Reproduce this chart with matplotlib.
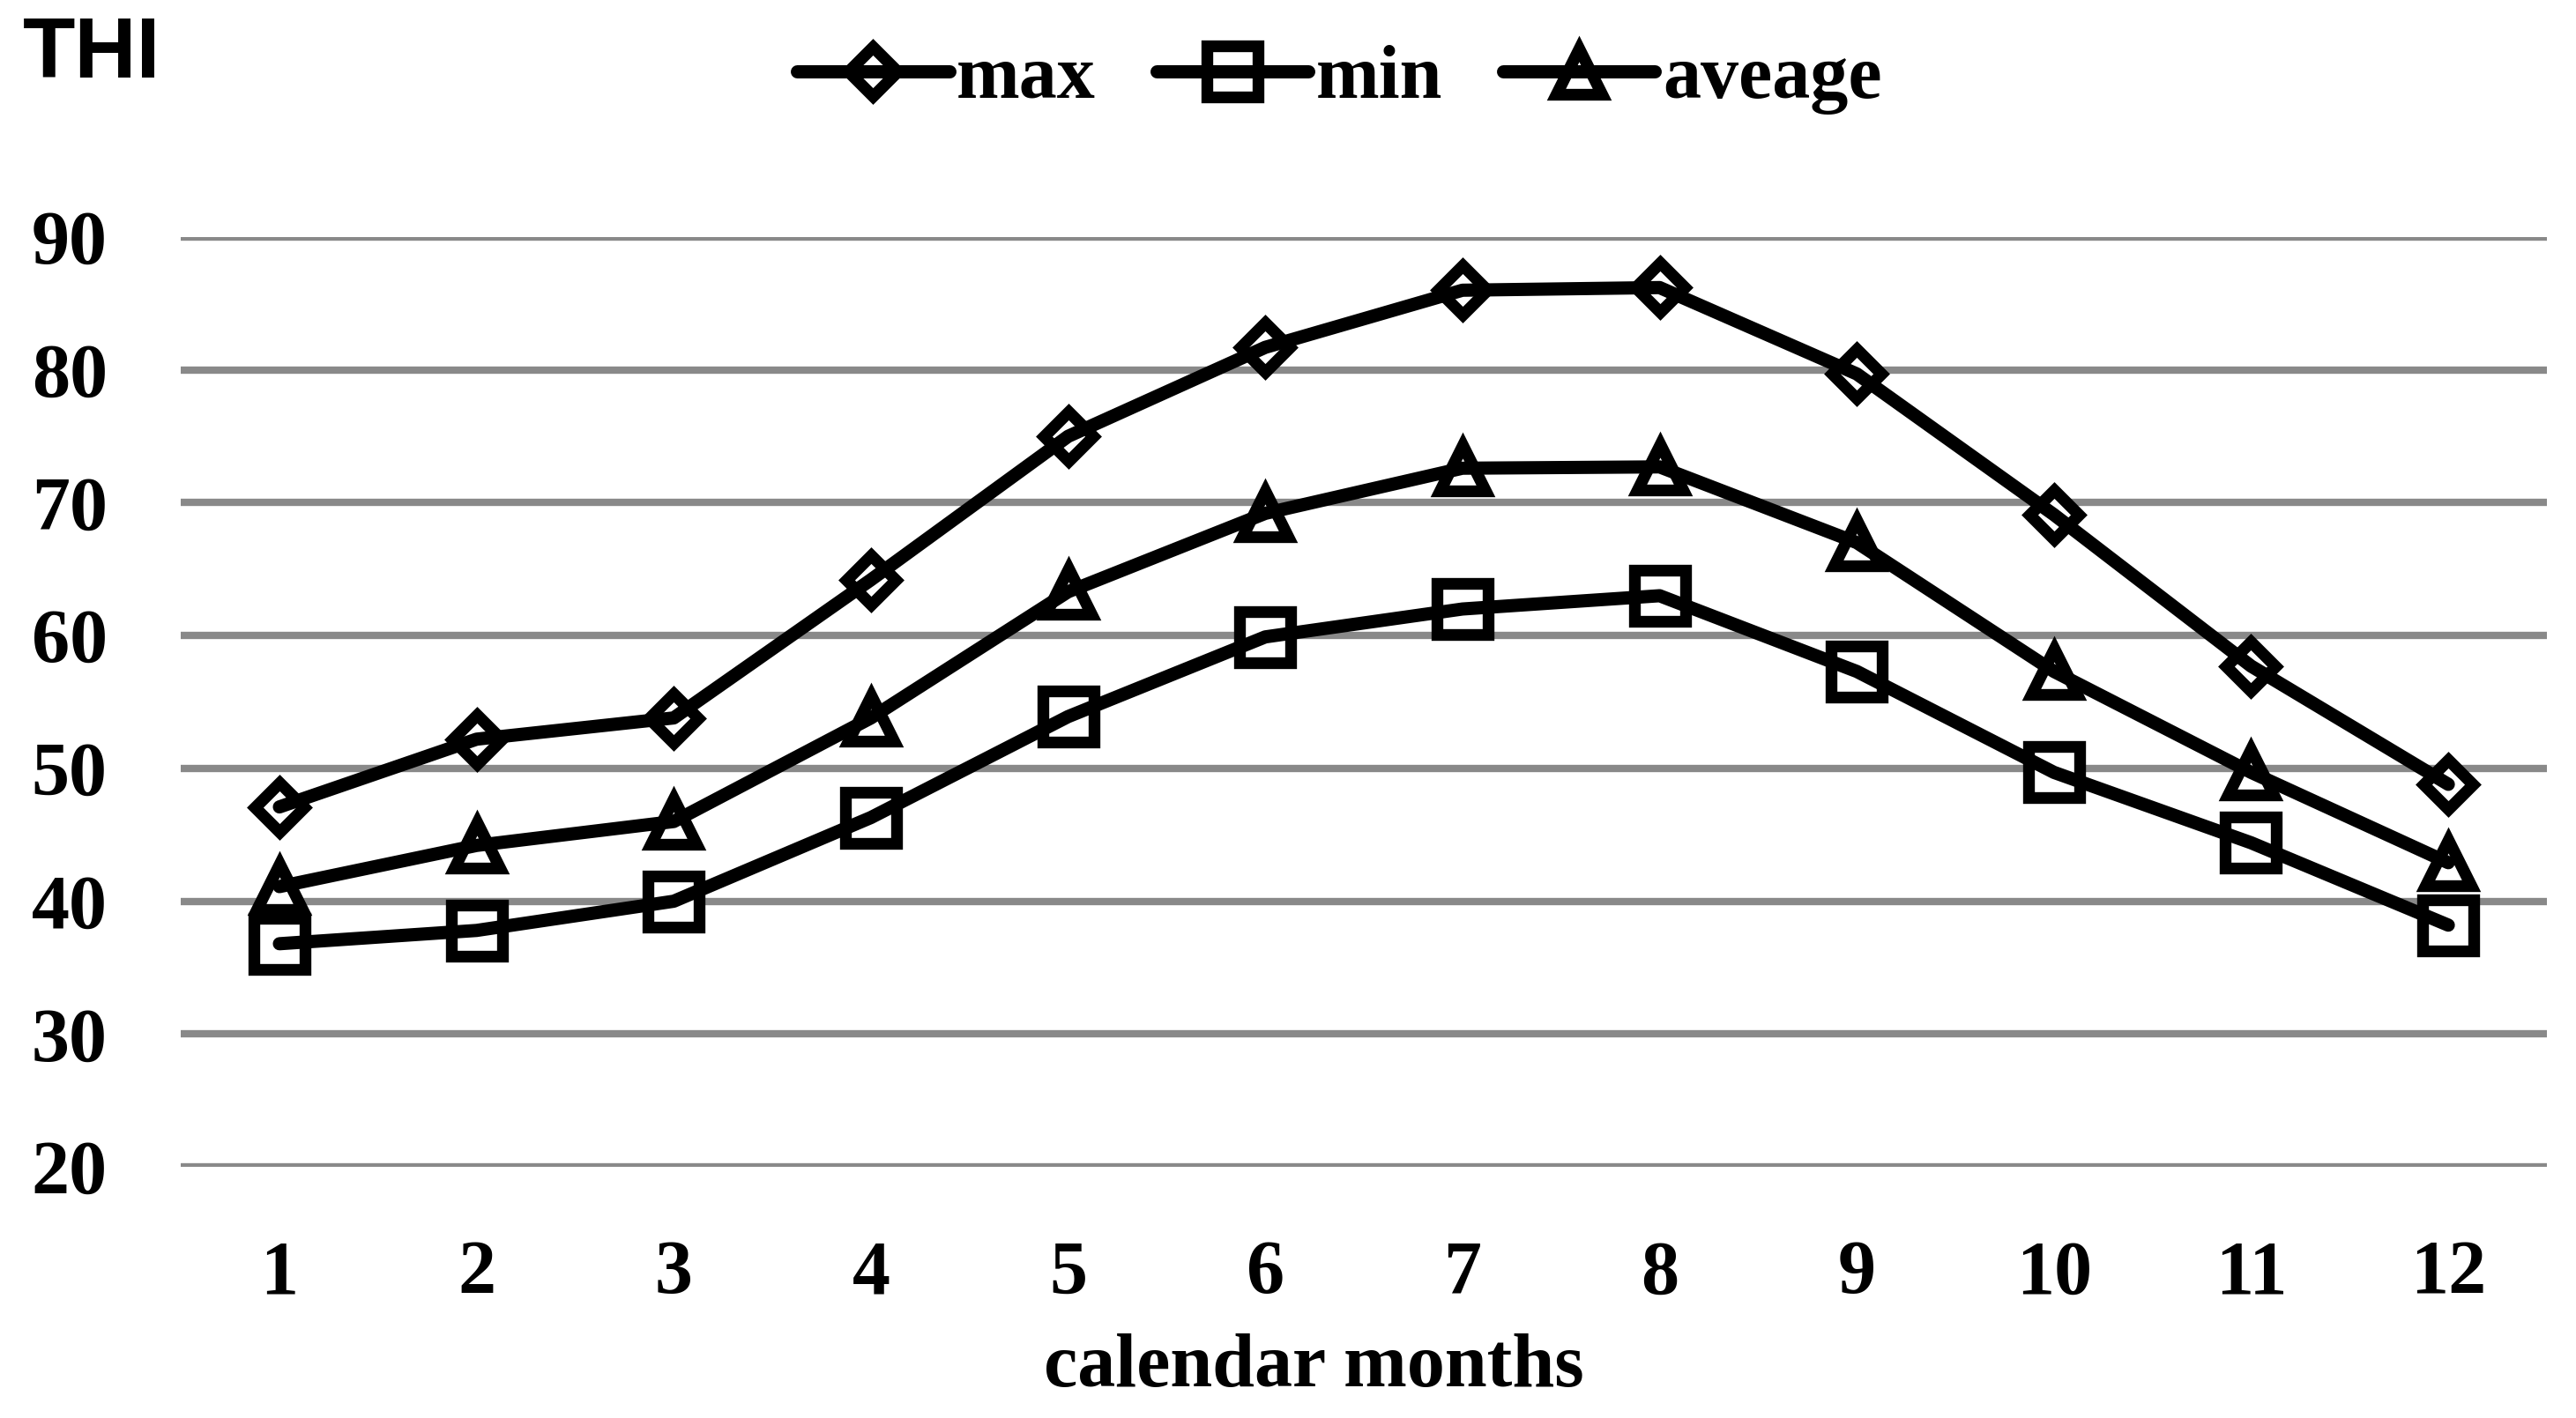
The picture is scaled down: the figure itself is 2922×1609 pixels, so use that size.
import matplotlib
matplotlib.use("Agg")
import matplotlib.pyplot as plt
from matplotlib.lines import Line2D
from matplotlib.legend_handler import HandlerTuple

months = [1, 2, 3, 4, 5, 6, 7, 8, 9, 10, 11, 12]
thi_max = [47.1, 52.2, 53.8, 64.2, 75.0, 81.7, 86.0, 86.2, 79.7, 69.1, 57.7, 48.8]
thi_min = [36.8, 37.8, 40.0, 46.3, 53.9, 59.9, 62.0, 63.0, 57.3, 49.7, 44.4, 38.2]
thi_avg = [41.1, 44.2, 46.0, 53.8, 63.3, 69.2, 72.6, 72.7, 67.0, 57.3, 49.7, 42.9]
y_ticks = [20, 30, 40, 50, 60, 70, 80, 90]
series_names = ["max", "min", "aveage"]

serif = ["Liberation Serif", "DejaVu Serif"]
fs = 31

fig = plt.figure(figsize=(14.61, 8.045), dpi=200)
ax = fig.add_axes([0.0702, 0.1771, 0.9185, 0.6557])

lw = 5.4
mew = 4.8
styles = [("D", 14.5), ("s", 21.0), ("^", 19.0)]
handles = []
for vals, (mk, ms) in zip([thi_max, thi_min, thi_avg], styles):
    # markers underneath, line drawn on top like the original
    ax.plot(months, vals, linestyle="none", marker=mk, markersize=ms,
            markerfacecolor="white", markeredgecolor="black",
            markeredgewidth=mew, zorder=3)
    ax.plot(months, vals, color="black", linewidth=lw,
            solid_capstyle="round", solid_joinstyle="round", zorder=4)
    h_m = Line2D([], [], linestyle="none", marker=mk, markersize=ms,
                 markerfacecolor="white", markeredgecolor="black",
                 markeredgewidth=mew)
    h_l = Line2D([], [], color="black", linewidth=lw, solid_capstyle="round")
    handles.append((h_m, h_l))

ax.set_xlim(0.5, 12.5)
ax.set_ylim(20, 90)
ax.set_xticks(months)
ax.set_yticks(y_ticks)
ax.yaxis.grid(True, color="#898989", linewidth=3.0)
ax.set_axisbelow(True)
for s in ax.spines.values():
    s.set_visible(False)
ax.tick_params(axis="both", length=0, labelsize=fs)
ax.tick_params(axis="x", pad=30)
for lab in ax.get_xticklabels() + ax.get_yticklabels():
    lab.set_family(serif)
    lab.set_fontweight("bold")
for lab in ax.get_yticklabels():
    lab.set_horizontalalignment("left")
ax.tick_params(axis="y", pad=61)

fig.text(0.51, 0.035, "calendar months", ha="center", va="center",
         fontsize=fs, fontweight="bold", family=serif)
fig.text(0.009, 0.945, "THI", ha="left", va="baseline",
         fontsize=35, fontweight="bold",
         family=["Liberation Sans Narrow", "Liberation Sans", "DejaVu Sans"])

fig.legend(handles, series_names, loc="center", bbox_to_anchor=(0.52, 0.944),
           ncol=3, frameon=False, handlelength=2.0, handletextpad=0.1,
           columnspacing=0.8, prop={"family": serif, "weight": "bold", "size": fs},
           handler_map={tuple: HandlerTuple(ndivide=1)})

fig.savefig("out.png", dpi=200, facecolor="white")
